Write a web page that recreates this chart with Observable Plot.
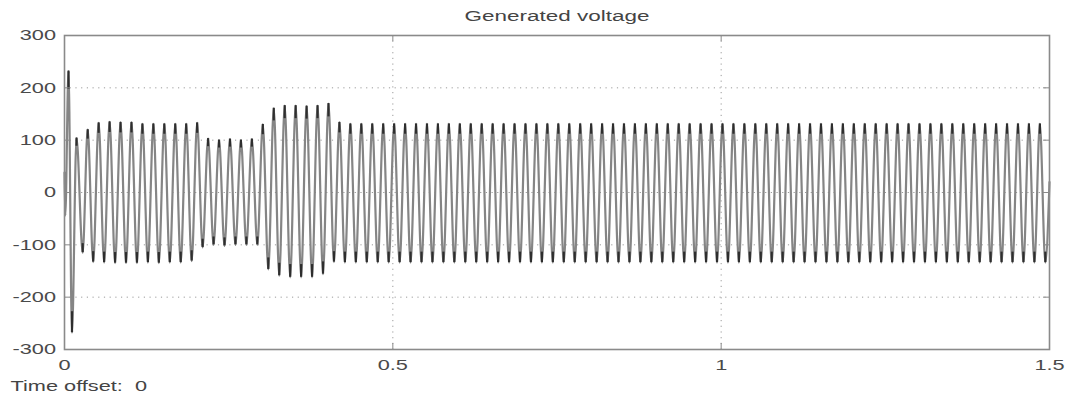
<!DOCTYPE html>
<html>
<head>
<meta charset="utf-8">
<script src="https://cdn.jsdelivr.net/npm/d3@7"></script>
<script src="https://cdn.jsdelivr.net/npm/@observablehq/plot@0.6"></script>
<style>
  html, body { margin: 0; padding: 0; background: #fff; overflow: hidden; }
  #chart { width: 1068px; height: 393px; }
</style>
</head>
<body>
<div id="chart"></div>
<script>
// ---- Data ----
const titleText = "Generated voltage";
const captionText = "Time offset:  0";

const xTicks = [0, 0.5, 1, 1.5];
const xTickLabels = ["0", "0.5", "1", "1.5"];
const yTicks = [-300, -200, -100, 0, 100, 200, 300];
const yTickLabels = ["-300", "-200", "-100", "0", "100", "200", "300"];

// Start-up transient (explicit extreme points, seconds / volts)
const startTimes  = [0, 0.0012, 0.0061, 0.0114, 0.0183, 0.0277];
const startValues = [38, -44, 232, -268, 104, -115];

// Regular 60 Hz oscillation: one positive and one negative peak per cycle,
// starting at cycle index 2
const frequencyHz = 60;
const firstCycle = 2;
const posPhase = 0.12;
const negPhase = 0.62;

const posPeaks = [
  120, 133, 135, 134, 134, 131, 131, 131, 131, 131, 133, 103, 100, 102, 100, 102,
  130, 161, 166, 166, 165, 166, 170, 134,
  131, 131, 131, 131, 131, 131, 131, 131, 131, 131, 131, 131, 131, 131, 131, 131,
  131, 131, 131, 131, 131, 131, 131, 131, 131, 131, 131, 131, 131, 131, 131, 131,
  131, 131, 131, 131, 131, 131, 131, 131, 131, 131, 131, 131, 131, 131, 131, 131,
  131, 131, 131, 131, 131, 131, 131, 131, 131, 131, 131, 131, 131, 131, 131, 131
];
const negPeaks = [
  -133, -134, -135, -135, -135, -134, -135, -134, -134, -131, -105, -100, -102, -100, -100, -100,
  -147, -159, -162, -162, -162, -156, -133,
  -134, -134, -134, -134, -134, -134, -134, -134, -134, -134, -134, -134, -134, -134, -134, -134,
  -134, -134, -134, -134, -134, -134, -134, -134, -134, -134, -134, -134, -134, -134, -134, -134,
  -134, -134, -134, -134, -134, -134, -134, -134, -134, -134, -134, -134, -134, -134, -134, -134,
  -134, -134, -134, -134, -134, -134, -134, -134, -134, -134, -134, -134, -134, -134, -134, -134,
  -134
];

const endTime = 1.5;
const endValue = 20;

// ---- Build table ----
const points = [];
startTimes.forEach((t, i) => points.push({t, v: startValues[i], peak: i >= 2}));
for (let k = 0; k < posPeaks.length; k++) {
  const n = firstCycle + k;
  points.push({t: (n + posPhase) / frequencyHz, v: posPeaks[k], peak: true});
  if (k < negPeaks.length) points.push({t: (n + negPhase) / frequencyHz, v: negPeaks[k], peak: true});
}
points.push({t: endTime, v: endValue, peak: false});
const peaks = points.filter(d => d.peak);

const xLabel = new Map(xTicks.map((d, i) => [d, xTickLabels[i]]));
const yLabel = new Map(yTicks.map((d, i) => [d, yTickLabels[i]]));

const textColor = "#4a4a4a";
const gridColor = "#9a9a9a";
const frameColor = "#8a8a8a";

const chart = Plot.plot({
  width: 1068,
  height: 393,
  marginLeft: 64,
  marginRight: 19,
  marginTop: 35,
  marginBottom: 44,
  style: {fontFamily: "'Liberation Sans', Arial, sans-serif", fontSize: "15px", background: "#fff", overflow: "visible"},
  x: {domain: [0, 1.5], ticks: xTicks},
  y: {domain: [-300, 300], ticks: yTicks},
  marks: [
    Plot.gridX(xTicks, {stroke: gridColor, strokeOpacity: 1, strokeDasharray: "1.2,4.5", strokeWidth: 1}),
    Plot.gridY(yTicks, {stroke: gridColor, strokeOpacity: 1, strokeDasharray: "1.2,4.5", strokeWidth: 1}),
    Plot.line(points, {x: "t", y: "v", curve: "monotone-x", stroke: "#858585", strokeWidth: 2.2}),
    Plot.ruleX(peaks, {x: "t", y1: "v", y2: d => d.v * 0.85, stroke: "#2e2e2e", strokeWidth: 2.2}),
    Plot.tickY(yTicks, {stroke: frameColor, insetRight: 979}),
    Plot.tickY(yTicks, {stroke: frameColor, insetLeft: 979}),
    Plot.tickX(xTicks, {stroke: frameColor, insetBottom: 308}),
    Plot.tickX(xTicks, {stroke: frameColor, insetTop: 308}),
    Plot.frame({stroke: frameColor, strokeWidth: 1.6}),
    Plot.axisY(yTicks, {tickSize: 0, tickPadding: 8.5, tickFormat: d => yLabel.get(d), label: null, fill: textColor}),
    Plot.axisX(xTicks, {tickSize: 0, tickPadding: 9.5, tickFormat: d => xLabel.get(d), label: null, fill: textColor}),
    Plot.text([titleText], {frameAnchor: "top", dy: -19, lineAnchor: "middle", fill: "#444", fontSize: 15.5}),
    Plot.text([captionText], {frameAnchor: "bottom-left", dx: -54, dy: 37, textAnchor: "start", lineAnchor: "middle", fill: "#444", fontSize: 15})
  ]
});

// Widen the text horizontally like the (stretched) reference picture
const sx = 1.45;
chart.querySelectorAll("text").forEach(el => {
  const ax = parseFloat(el.getAttribute("x")) || 0;
  const tr = el.getAttribute("transform") || "";
  el.setAttribute("transform", `${tr} translate(${ax},0) scale(${sx},1) translate(${-ax},0)`);
});

document.getElementById("chart").appendChild(chart);
</script>
</body>
</html>
